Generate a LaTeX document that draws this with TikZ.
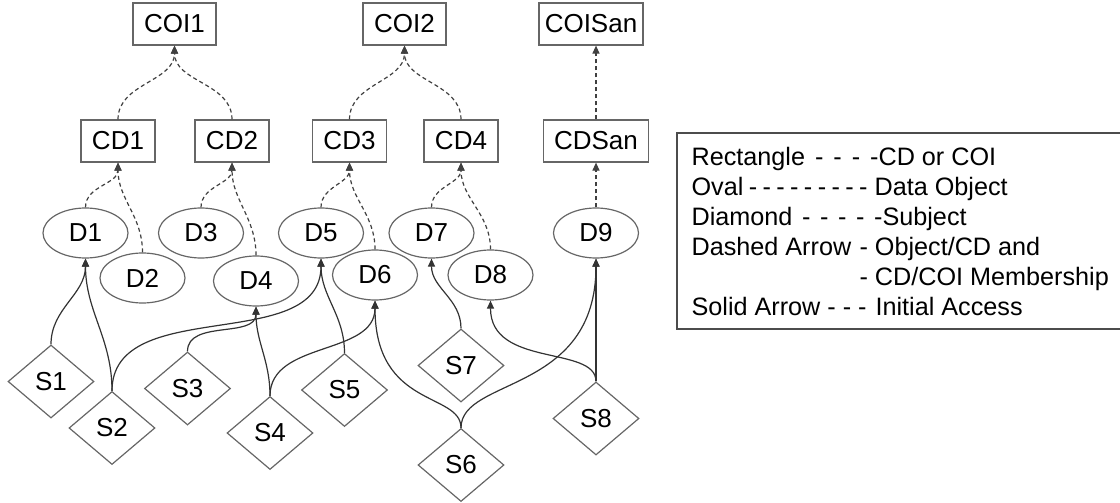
\documentclass[tikz,border=0pt]{standalone}
\usepackage{fontspec}
\setmainfont{Liberation Sans}
\usetikzlibrary{shapes.geometric,arrows.meta}

\tikzset{
    cdbox/.style={draw=black!60, rectangle, minimum width=37pt, minimum height=21pt,
        inner sep=0pt, font=\fontsize{13}{15}\selectfont},
    coibox/.style={cdbox, minimum width=41.5pt},
    sanbox/.style={cdbox, minimum width=52.5pt},
    dataobj/.style={draw=black!60, ellipse, minimum width=42.5pt, minimum height=25pt,
        inner sep=0pt, font=\fontsize{13}{15}\selectfont},
    subj/.style={draw=black!60, diamond, aspect=1.18, minimum width=43pt, minimum height=36.5pt,
        inner sep=0pt, font=\fontsize{13}{15}\selectfont},
    member/.style={->, draw=black!75, dash pattern=on 2pt off 1.5pt},
    access/.style={->, draw=black!80},
    legendline/.style={anchor=base west, inner sep=0pt, font=\fontsize{12.6}{15}\selectfont},
}

\begin{document}
\begin{tikzpicture}[x=0.5pt, y=-0.5pt, line width=0.6pt, >={Triangle[length=4pt,width=3.5pt]}]
    \useasboundingbox (0, 0) rectangle (1120, 503);

    % COI
    \node[coibox] (COI1) at (174.5, 24) {COI1};
    \node[coibox] (COI2) at (404.5, 24) {COI2};
    \node[sanbox, minimum width=52pt] (COISan) at (591, 24) {COISan};

    % CD
    \node[cdbox] (CD1) at (118, 141) {CD1};
    \node[cdbox] (CD2) at (232, 141) {CD2};
    \node[cdbox] (CD3) at (349.5, 141) {CD3};
    \node[cdbox] (CD4) at (461, 141) {CD4};
    \node[sanbox] (CDSan) at (596, 141) {CDSan};

    % data objects
    \node[dataobj] (D1) at (85.5, 233) {D1};
    \node[dataobj] (D2) at (142.5, 278) {D2};
    \node[dataobj] (D3) at (201, 233) {D3};
    \node[dataobj] (D4) at (256, 281) {D4};
    \node[dataobj] (D5) at (321, 233) {D5};
    \node[dataobj] (D6) at (375, 275) {D6};
    \node[dataobj] (D7) at (431.5, 233) {D7};
    \node[dataobj] (D8) at (490.5, 275) {D8};
    \node[dataobj] (D9) at (596, 233) {D9};

    % subjects
    \node[subj] (S1) at (51, 381.5) {S1};
    \node[subj] (S2) at (112, 428) {S2};
    \node[subj] (S3) at (187.5, 388.5) {S3};
    \node[subj] (S4) at (270, 433) {S4};
    \node[subj] (S5) at (344.5, 390) {S5};
    \node[subj] (S6) at (461, 465) {S6};
    \node[subj] (S7) at (461, 365.5) {S7};
    \node[subj] (S8) at (596, 418.5) {S8};

    % CD/COI membership
    \draw[member] (CD1.north) to[out=90, in=-90] (COI1.south);
    \draw[member] (CD2.north) to[out=90, in=-90] (COI1.south);
    \draw[member] (CD3.north) to[out=90, in=-90] (COI2.south);
    \draw[member] (CD4.north) to[out=90, in=-90] (COI2.south);
    \draw[member] (CDSan.north) -- (CDSan.north |- COISan.south);

    % object/CD membership
    \draw[member] (D1.north) to[out=90, in=-90] (CD1.south);
    \draw[member] (D2.north) to[out=90, in=-90] (CD1.south);
    \draw[member] (D3.north) to[out=90, in=-90] (CD2.south);
    \draw[member] (D4.north) to[out=90, in=-90] (CD2.south);
    \draw[member] (D5.north) to[out=90, in=-90] (CD3.south);
    \draw[member] (D6.north) to[out=90, in=-90] (CD3.south);
    \draw[member] (D7.north) to[out=90, in=-90] (CD4.south);
    \draw[member] (D8.north) to[out=90, in=-90] (CD4.south);
    \draw[member] (D9.north) -- (CDSan.south);

    % initial access
    \draw[access] (S1.north) to[out=90, in=-90] (D1.south);
    \draw[access] (S2.north) to[out=90, in=-90] (D1.south);
    \draw[access] (S2.north) to[out=90, in=-90] (D5.south);
    \draw[access] (S3.north) to[out=90, in=-90] (D4.south);
    \draw[access] (S4.north) to[out=90, in=-90] (D4.south);
    \draw[access] (S4.north) to[out=90, in=-90] (D6.south);
    \draw[access] (S5.north) to[out=90, in=-90] (D5.south);
    \draw[access] (S6.north) to[out=90, in=-90, out looseness=0.6, in looseness=1.8] (D6.south);
    \draw[access] (S6.north) to[out=90, in=-90, out looseness=0.6, in looseness=1.6] (D9.south);
    \draw[access] (S7.north) to[out=90, in=-90] (D7.south);
    \draw[access] (S8.north) to[out=90, in=-90, out looseness=0.7, in looseness=1.3] (D8.south);
    \draw[access] (S8.north) -- (D9.south);

    % legend
    \draw[draw=black!70] (677, 133) rectangle (1126, 329);
    \node[legendline] (lgRect) at (691, 165) {\makebox[93.5pt][s]{Rectangle - - - -}CD or COI};
    \node[legendline] (lgOval) at (691, 195) {\makebox[88pt][s]{Oval - - - - - - - - -}\ Data Object};
    \node[legendline] (lgDiamond) at (691, 225) {\makebox[95.5pt][s]{Diamond - - - - -}Subject};
    \node[legendline] (lgDashed) at (691, 255) {\makebox[84pt][l]{Dashed Arrow}- Object/CD and};
    \node[legendline] (lgDashedB) at (691, 285) {\makebox[84pt][l]{}- CD/COI Membership};
    \node[legendline] (lgSolid) at (691, 315) {\makebox[92pt][l]{Solid Arrow - - -}Initial Access};
\end{tikzpicture}
\end{document}
